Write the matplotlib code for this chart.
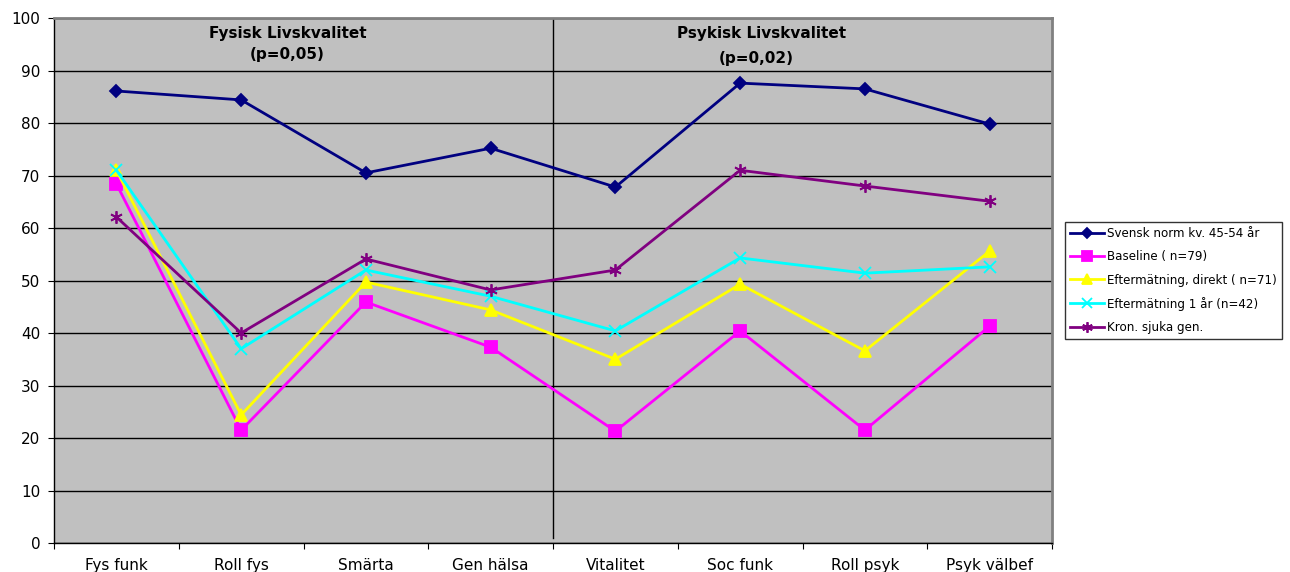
import numpy as np
import matplotlib
matplotlib.use('Agg')
import matplotlib.pyplot as plt

categories = ['Fys funk', 'Roll fys', 'Smärta', 'Gen hälsa',
              'Vitalitet', 'Soc funk', 'Roll psyk', 'Psyk välbef']

svensk_norm = [86.1, 84.4, 70.5, 75.2, 67.8, 87.6, 86.5, 79.8]
baseline = [68.4, 21.5, 45.9, 37.3, 21.3, 40.4, 21.5, 41.3]
efter_direkt = [71.0, 24.4, 49.7, 44.4, 35.0, 49.3, 36.6, 55.6]
efter_1ar = [71.0, 37.0, 52.0, 47.0, 40.4, 54.3, 51.4, 52.6]
kron_sjuka = [62.1, 40.0, 54.1, 48.2, 52.0, 71.0, 68.0, 65.1]

labels = ['Svensk norm kv. 45-54 år', 'Baseline ( n=79)',
          'Eftermätning, direkt ( n=71)', 'Eftermätning 1 år (n=42)',
          'Kron. sjuka gen.']

plt.rcParams['font.family'] = ['DejaVu Sans']

fig = plt.figure(figsize=(12.9, 5.72), dpi=100)
ax = fig.add_axes([0.0419, 0.0507, 0.7736, 0.9178])
ax.set_facecolor('#c0c0c0')

xs = np.arange(len(categories))
series = [svensk_norm, baseline, efter_direkt, efter_1ar, kron_sjuka]
colors = ['#000080', '#ff00ff', '#ffff00', '#00ffff', '#800080']
markers = ['D', 's', '^', 'x', (6, 2, 0)]
msizes = [6, 8, 8, 8, 9]

for ys, lab, c, m, ms in zip(series, labels, colors, markers, msizes):
    ax.plot(xs, ys, color=c, lw=2.0, marker=m, markersize=ms,
            markeredgewidth=1.3, markerfacecolor=c, markeredgecolor=c,
            label=lab, zorder=3)

ax.set_xlim(-0.5, 7.5)
ax.set_ylim(0, 100)
ax.set_yticks(np.arange(0, 101, 10))
ax.yaxis.grid(True, color='black', lw=1.0)
ax.set_axisbelow(True)

# category labels between boundary ticks
ax.set_xticks(np.arange(-0.5, 8, 1))
ax.set_xticklabels([])
ax.set_xticks(xs, minor=True)
ax.set_xticklabels(categories, minor=True)
ax.tick_params(axis='x', which='minor', length=0, labelsize=11, pad=11)
ax.tick_params(axis='x', which='major', length=4, color='black')
ax.tick_params(axis='y', length=4, color='black', labelsize=11, pad=6)

for side in ['top', 'right']:
    ax.spines[side].set_color('#808080')
    ax.spines[side].set_linewidth(2.0)
for side in ['left', 'bottom']:
    ax.spines[side].set_color('black')
    ax.spines[side].set_linewidth(1.0)

# divider between physical and mental scales
ax.plot([3.5, 3.5], [1, 100], color='black', lw=1.0, zorder=2)

ax.text(1.37, 97.1, 'Fysisk Livskvalitet', ha='center', va='center',
        fontsize=11, fontweight='bold')
ax.text(1.37, 93.0, '(p=0,05)', ha='center', va='center',
        fontsize=11, fontweight='bold')
ax.text(5.17, 97.1, 'Psykisk Livskvalitet', ha='center', va='center',
        fontsize=11, fontweight='bold')
ax.text(5.13, 92.2, '(p=0,02)', ha='center', va='center',
        fontsize=11, fontweight='bold')

leg = ax.legend(loc='center left', bbox_to_anchor=(1.013, 0.5),
                fontsize=8.6, frameon=True, fancybox=False,
                edgecolor='black', handlelength=2.8, handletextpad=0.25,
                labelspacing=0.85, borderpad=0.45, borderaxespad=0,
                markerscale=0.85)
leg.get_frame().set_linewidth(1.0)

fig.savefig('out.png', dpi=100)
